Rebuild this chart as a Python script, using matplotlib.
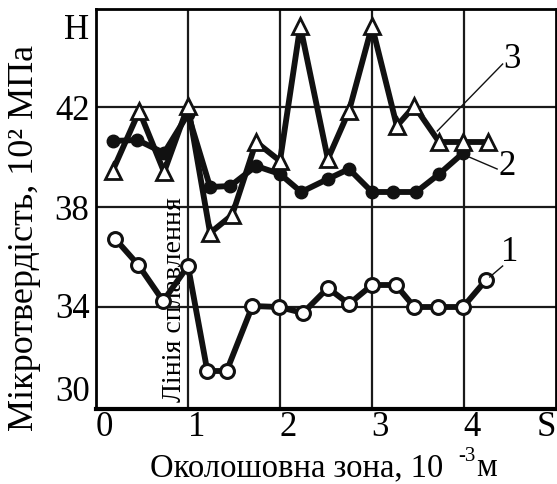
import matplotlib
matplotlib.use("Agg")
import matplotlib.pyplot as plt

plt.rcParams["font.family"] = ["Liberation Serif", "DejaVu Serif"]

# Curve 1: open circles
x1 = [0.21, 0.46, 0.73, 1.0, 1.21, 1.42, 1.70, 1.99, 2.25, 2.52, 2.75, 3.0, 3.26, 3.46, 3.72, 3.99, 4.24]
y1 = [36.72, 35.68, 34.24, 35.64, 31.44, 31.44, 34.04, 34.0, 33.76, 34.76, 34.12, 34.88, 34.88, 34.0, 34.0, 34.0, 35.08]

# Curve 2: filled circles
x2 = [0.18, 0.45, 0.74, 1.0, 1.24, 1.46, 1.74, 2.0, 2.23, 2.52, 2.75, 3.0, 3.23, 3.48, 3.73, 3.99]
y2 = [40.64, 40.68, 40.16, 41.72, 38.8, 38.84, 39.64, 39.32, 38.6, 39.12, 39.52, 38.6, 38.6, 38.6, 39.32, 40.16]

# Curve 3: open triangles
x3 = [0.18, 0.47, 0.74, 1.0, 1.24, 1.48, 1.74, 2.0, 2.22, 2.52, 2.75, 3.0, 3.27, 3.46, 3.73, 3.99, 4.26]
y3 = [39.44, 41.84, 39.4, 42.04, 36.96, 37.68, 40.6, 39.84, 45.24, 39.92, 41.84, 45.24, 41.24, 42.04, 40.6, 40.6, 40.6]

x_grid = [1, 2, 3, 4]
y_grid = [34, 38, 42]
x_ticklabels = ["0", "1", "2", "3", "4", "S"]
x_tickpos = [0, 1, 2, 3, 4, 4.8]
y_ticklabels = ["30", "34", "38", "42", "H"]
y_tickpos = [30.6, 33.92, 37.84, 41.84, 45.12]

fig = plt.figure(figsize=(5.57, 4.85), dpi=100)
ax = fig.add_axes([96 / 557, 1 - 410 / 485, 460 / 557, 400 / 485])
ax.set_xlim(0, 5)
ax.set_ylim(29.92, 45.92)

for xv in x_grid:
    ax.axvline(xv, color="#1a1a1a", lw=1.6, zorder=1)
for yv in y_grid:
    ax.axhline(yv, color="#1a1a1a", lw=1.6, zorder=1)

ax.set_xticks([])
ax.set_yticks([])
for side in ["left", "top", "right"]:
    ax.spines[side].set_linewidth(2.0)
ax.spines["bottom"].set_linewidth(3.0)

ax.plot(x1, y1, color="#111111", lw=4.2, marker="o", ms=10, mfc="white",
        mec="#111111", mew=2.2, zorder=3)
ax.plot(x2, y2, color="#111111", lw=4.2, marker="o", ms=9, mfc="#111111",
        mec="#111111", zorder=3)
ax.plot(x3, y3, color="#111111", lw=4.2, marker="^", ms=11, mfc="white",
        mec="#111111", mew=2.0, zorder=4)

for lab, pos in zip(x_ticklabels, x_tickpos):
    ax.text(pos + 0.09, 29.2, lab, ha="center", va="center", fontsize=25, clip_on=False)
for lab, pos in zip(y_ticklabels, y_tickpos):
    ax.text(-0.07, pos, lab, ha="right", va="center", fontsize=25, clip_on=False)

# curve labels with leader lines
ax.plot([4.42, 3.71], [43.72, 41.04], color="#111111", lw=1.0, zorder=5)
ax.text(4.52, 43.92, "3", ha="center", va="center", fontsize=25)
ax.plot([4.03, 4.36], [40.04, 39.52], color="#111111", lw=1.0, zorder=5)
ax.text(4.47, 39.64, "2", ha="center", va="center", fontsize=25)
ax.plot([4.28, 4.42], [35.2, 35.64], color="#111111", lw=1.0, zorder=5)
ax.text(4.5, 36.2, "1", ha="center", va="center", fontsize=25)

ax.text(0.85, 30.24, "Лінія сплавлення", rotation=90, ha="center", va="bottom",
        fontsize=20, zorder=2)

fig.text(25 / 557, 1 - 238 / 485, "Мікротвердість, 10² МПа", rotation=90,
         ha="center", va="center", fontsize=26)
fig.text(150 / 557, 1 - 468 / 485, "Околошовна зона, 10", ha="left", va="center",
         fontsize=23.5)
fig.text(467 / 557, 1 - 457 / 485, "-3", ha="center", va="center", fontsize=15)
fig.text(476 / 557, 1 - 468 / 485, "м", ha="left", va="center", fontsize=23.5)

fig.savefig("out.png", dpi=100)
